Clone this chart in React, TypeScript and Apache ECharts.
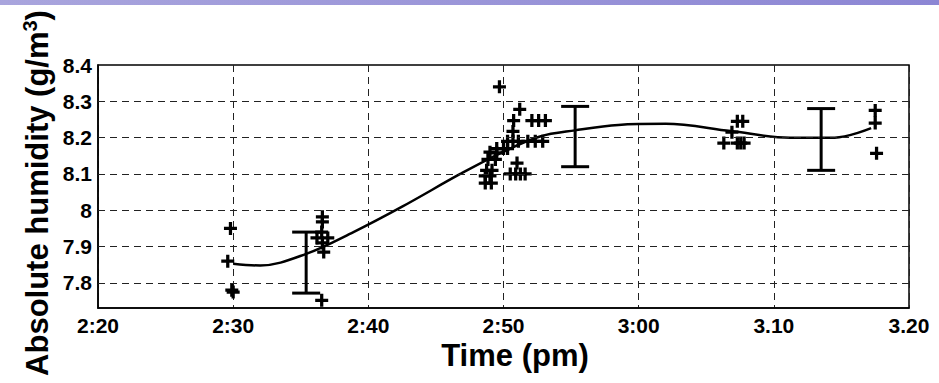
import React, { useEffect, useRef } from "react";
import * as echarts from "echarts";

// minutes after 2:20 pm
const xTickLabels = ["2:20", "2:30", "2:40", "2:50", "3:00", "3.10", "3.20"];
const yTickValues = [7.8, 7.9, 8, 8.1, 8.2, 8.3, 8.4];
const yGridValues = [7.8, 7.9, 8, 8.1, 8.2, 8.3];

const measuredPoints: [number, number][] = [
  [9.8, 7.95], [9.6, 7.86], [9.9, 7.78], [10.0, 7.775],
  [16.6, 7.982], [16.6, 7.968], [16.55, 7.94], [16.2, 7.924], [17.0, 7.924],
  [16.6, 7.91], [16.7, 7.885], [16.55, 7.752],
  [29.7, 8.34], [31.2, 8.278], [30.75, 8.247], [32.1, 8.247], [32.6, 8.247], [33.1, 8.247],
  [30.7, 8.217], [30.3, 8.19], [30.7, 8.19], [31.1, 8.19], [31.8, 8.19], [32.35, 8.19], [32.9, 8.19],
  [29.5, 8.17], [30.0, 8.17], [30.3, 8.17], [29.0, 8.16], [29.5, 8.158],
  [28.85, 8.14], [29.4, 8.14], [31.0, 8.13],
  [28.75, 8.11], [29.15, 8.11], [30.5, 8.1], [30.9, 8.1], [31.25, 8.1], [31.6, 8.1],
  [28.65, 8.095], [29.0, 8.095], [28.65, 8.075], [29.1, 8.075],
  [47.3, 8.245], [47.7, 8.245], [46.9, 8.215], [46.3, 8.185], [47.3, 8.185], [47.55, 8.185], [47.8, 8.185],
  [57.5, 8.275], [57.5, 8.24], [57.6, 8.157],
];

const fitMinutes = [10.0, 12.0, 15.4, 18.9, 22.5, 26.8, 29.75, 32.7, 35.3, 38.5, 42.0, 46.8, 51.2, 54.5, 57.2];
const fitValues = [7.853, 7.848, 7.88, 7.94, 8.01, 8.1, 8.157, 8.203, 8.22, 8.235, 8.238, 8.218, 8.2, 8.2, 8.226];

const errMinutes = [15.4, 35.3, 53.5];
const errLow = [7.772, 8.12, 8.11];
const errHigh = [7.94, 8.286, 8.28];

const FONT = "'Liberation Sans', Arial, sans-serif";
const PLUS = "path://M4.5,0H7.5V4.5H12V7.5H7.5V12H4.5V7.5H0V4.5H4.5Z";

export default function App() {
  const ref = useRef<HTMLDivElement>(null);
  useEffect(() => {
    if (!ref.current) return;
    const chart = echarts.init(ref.current, undefined, { renderer: "svg" });
    const fitData = fitMinutes.map((m, i) => [m, fitValues[i]]);
    const errData = errMinutes.map((m, i) => [m, errLow[i], errHigh[i]]);
    chart.setOption({
      animation: false,
      backgroundColor: "#fff",
      grid: {
        left: 98,
        right: 30,
        top: 65,
        bottom: 75,
        show: true,
        borderColor: "#000",
        borderWidth: 1.5,
        containLabel: false,
      },
      xAxis: {
        type: "value",
        min: 0,
        max: 60,
        interval: 10,
        axisLine: { show: true, lineStyle: { color: "#000", width: 1.5 } },
        axisTick: { show: false },
        axisLabel: {
          margin: 8,
          lineHeight: 18,
          color: "#000",
          fontFamily: FONT,
          fontWeight: "bold",
          fontSize: 21,
          formatter: (v: number) => xTickLabels[Math.round(v / 10)] ?? "",
        },
        splitLine: { show: true, lineStyle: { color: "#222", width: 1, type: [7, 5] } },
      },
      yAxis: {
        type: "value",
        min: 7.731,
        max: 8.4,
        axisLine: { show: true, lineStyle: { color: "#000", width: 1.5 } },
        axisTick: { show: false },
        splitLine: { show: false },
        axisLabel: {
          customValues: yTickValues,
          margin: 6,
          color: "#000",
          fontFamily: FONT,
          fontWeight: "bold",
          fontSize: 21,
          formatter: (v: number) => String(Math.round(v * 10) / 10),
        },
      },
      graphic: [
        {
          type: "rect",
          shape: { x: 0, y: 0, width: 939, height: 5 },
          style: {
            fill: new echarts.graphic.LinearGradient(0, 0, 1, 0, [
              { offset: 0, color: "#a9a5dd" },
              { offset: 1, color: "#8c86d4" },
            ]),
          },
          z: 10,
        },
        {
          type: "text",
          x: 515,
          y: 355,
          style: {
            text: "Time (pm)",
            fontFamily: FONT,
            fontWeight: "bold",
            fontSize: 31,
            lineHeight: 30,
            fill: "#000",
            align: "center",
            verticalAlign: "middle",
          },
        },
        {
          type: "text",
          x: 37,
          y: 193,
          rotation: Math.PI / 2,
          style: {
            text: "{a|Absolute humidity (g/m}{s|3}{a|)}",
            fontFamily: FONT,
            fontWeight: "bold",
            fontSize: 31,
            fill: "#000",
            align: "center",
            verticalAlign: "middle",
            rich: {
              a: { fontFamily: FONT, fontWeight: "bold", fontSize: 31, fill: "#000", lineHeight: 34 },
              s: { fontFamily: FONT, fontWeight: "bold", fontSize: 20, fill: "#000", verticalAlign: "top", lineHeight: 34 },
            },
          },
        },
      ],
      series: [
        {
          type: "line",
          data: [],
          silent: true,
          markLine: {
            silent: true,
            symbol: "none",
            label: { show: false },
            lineStyle: { color: "#222", width: 1, type: [7, 5] },
            data: yGridValues.map((v) => ({ yAxis: v })),
          },
        },
        {
          type: "line",
          data: fitData,
          smooth: 0.35,
          showSymbol: false,
          lineStyle: { color: "#000", width: 2.5 },
          z: 3,
        },
        {
          type: "scatter",
          data: measuredPoints,
          symbol: PLUS,
          symbolSize: 13,
          itemStyle: { color: "#000", opacity: 1 },
          z: 4,
        },
        {
          type: "custom",
          data: errData,
          z: 5,
          renderItem: (params: any, api: any) => {
            const x = api.value(0);
            const lo = api.coord([x, api.value(1)]);
            const hi = api.coord([x, api.value(2)]);
            const hw = 14;
            const style = { stroke: "#000", lineWidth: 3 };
            return {
              type: "group",
              children: [
                { type: "line", shape: { x1: hi[0], y1: hi[1], x2: lo[0], y2: lo[1] }, style },
                { type: "line", shape: { x1: hi[0] - hw, y1: hi[1], x2: hi[0] + hw, y2: hi[1] }, style },
                { type: "line", shape: { x1: lo[0] - hw, y1: lo[1], x2: lo[0] + hw, y2: lo[1] }, style },
              ],
            };
          },
        },
      ],
    });
    return () => chart.dispose();
  }, []);
  return (
    <div
      ref={ref}
      style={{ position: "fixed", left: 0, top: 0, width: 939, height: 383 }}
    />
  );
}
